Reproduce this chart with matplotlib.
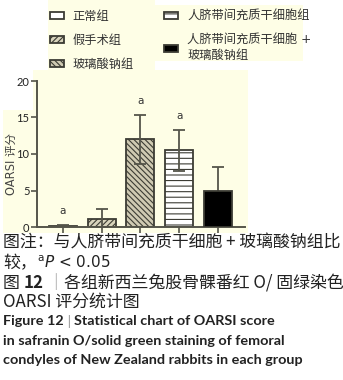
import matplotlib
matplotlib.use("Agg")
import matplotlib.pyplot as plt
from matplotlib.patches import Rectangle

plt.rcParams['font.family'] = ['DejaVu Sans', 'Noto Sans CJK SC']
plt.rcParams['hatch.color'] = '#6a6a5a'
plt.rcParams['hatch.linewidth'] = 0.8

# data
groups = ['正常组', '假手术组', '玻璃酸钠组', '人脐带间充质干细胞组', '人脐带间充质干细胞 +\n玻璃酸钠组']
scores = [0.2, 1.1, 12.0, 10.5, 5.0]
errs = [0.1, 1.3, 3.4, 2.85, 3.2]
sig = ['a', '', 'a', 'a', '']
yticks = [0, 5, 10, 15, 20]

faces = ['white', '#d8d4bc', '#cfcab2', 'white', 'black']
hatches = [None, '//////', '\\\\\\\\\\\\', '---', None]

W, H = 343, 380
fig = plt.figure(figsize=(W / 100, H / 100), dpi=100)
fig.patch.set_facecolor('white')

def fx(px):
    return px / W

def fy(py):
    return 1 - py / H

# pale yellow panels behind the chart (pasted-image look)
yel = '#fefee6'
for x0, y0, x1, y1 in [(48, 0, 155, 72), (155, 5, 303, 61), (33, 70, 248, 233), (3, 110, 33, 233)]:
    fig.patches.append(Rectangle((fx(x0), fy(y1)), (x1 - x0) / W, (y1 - y0) / H,
                                 transform=fig.transFigure, facecolor=yel,
                                 edgecolor='none', zorder=-5))

ax = fig.add_axes([fx(37), fy(227), (245 - 37) / W, (227 - 81) / H])
ax.set_facecolor('none')

xs = list(range(len(scores)))
bars = ax.bar(xs, scores, width=0.72, color=faces, edgecolor='#3c3c34',
              linewidth=1.3, zorder=2)
for b, h in zip(bars, hatches):
    if h:
        b.set_hatch(h)
bars[4].set_zorder(4)

ax.errorbar(xs, scores, yerr=errs, fmt='none', ecolor='#55554a', elinewidth=1.3,
            capsize=4.5, capthick=1.3, zorder=3)

for x, v, e, s in zip(xs, scores, errs, sig):
    if s:
        ax.text(x, v + e + 1.2, s, ha='center', va='bottom', fontsize=7.5, color='#333333')

ax.set_xlim(-0.67, 4.7)
ax.set_ylim(0, 20)
ax.set_yticks(yticks)
ax.set_yticklabels([str(t) for t in yticks], fontsize=8, color='#222222', family=['Lato'])
ax.set_xticks(xs)
ax.set_xticklabels([])
for sp in ['top', 'right']:
    ax.spines[sp].set_visible(False)
for sp in ['left', 'bottom']:
    ax.spines[sp].set_color('#55554a')
    ax.spines[sp].set_linewidth(1.4)
ax.tick_params(axis='both', direction='out', length=4, width=1.2, color='#55554a', pad=1.5)

fig.text(fx(11), fy(164), 'OARSI 评分', rotation=90, ha='center', va='center',
         fontsize=8.3, color='#444444')

fig.legend(bars, groups, loc='upper left', bbox_to_anchor=(fx(50), fy(10)), ncol=2,
           frameon=False, fontsize=8.8, handlelength=1.15, handleheight=0.55,
           handletextpad=0.7, columnspacing=2.5, labelspacing=0.9,
           borderaxespad=0, borderpad=0, labelcolor='#333333')

# caption
cap = '#222222'
cjk = ['Noto Sans CJK SC', 'DejaVu Sans']
fs = 12.2

def pieces(x, y, parts):
    r = fig.canvas.get_renderer()
    for txt, kw in parts:
        t = fig.text(x, y, txt, va='center', ha='left', **kw)
        bb = t.get_window_extent(renderer=r)
        x = x + bb.width / W

pieces(fx(3), fy(243), [('图注：与人脐带间充质干细胞 + 玻璃酸钠组比', dict(fontsize=fs, family=cjk, color=cap))])
pieces(fx(3), fy(263), [('较，', dict(fontsize=fs, family=cjk, color=cap)),
                         ('$^{\\mathrm{a}}\\it{P}$ < 0.05', dict(fontsize=11, family=['DejaVu Sans'], color=cap))])
pieces(fx(3), fy(283), [('图 ', dict(fontsize=fs, family=cjk, color=cap)),
                         ('12', dict(fontsize=fs, family=cjk, color=cap, weight='bold')),
                         (' ｜', dict(fontsize=fs, family=cjk, color='#999999')),
                         ('各组新西兰兔股骨髁番红 O/ 固绿染色', dict(fontsize=fs, family=cjk, color=cap))])
pieces(fx(3), fy(302), [('OARSI 评分统计图', dict(fontsize=fs, family=cjk, color=cap))])

en = dict(fontsize=10.4, family=['Lato', 'DejaVu Sans'], weight='bold', color=cap)
pieces(fx(3), fy(321), [('Figure 12', en), (' | ', dict(en, weight='normal', color='#999999')),
                         ('Statistical chart of OARSI score', en)])
pieces(fx(3), fy(341), [('in safranin O/solid green staining of femoral', en)])
pieces(fx(3), fy(360), [('condyles of New Zealand rabbits in each group', en)])

fig.savefig('out.png', dpi=100)
